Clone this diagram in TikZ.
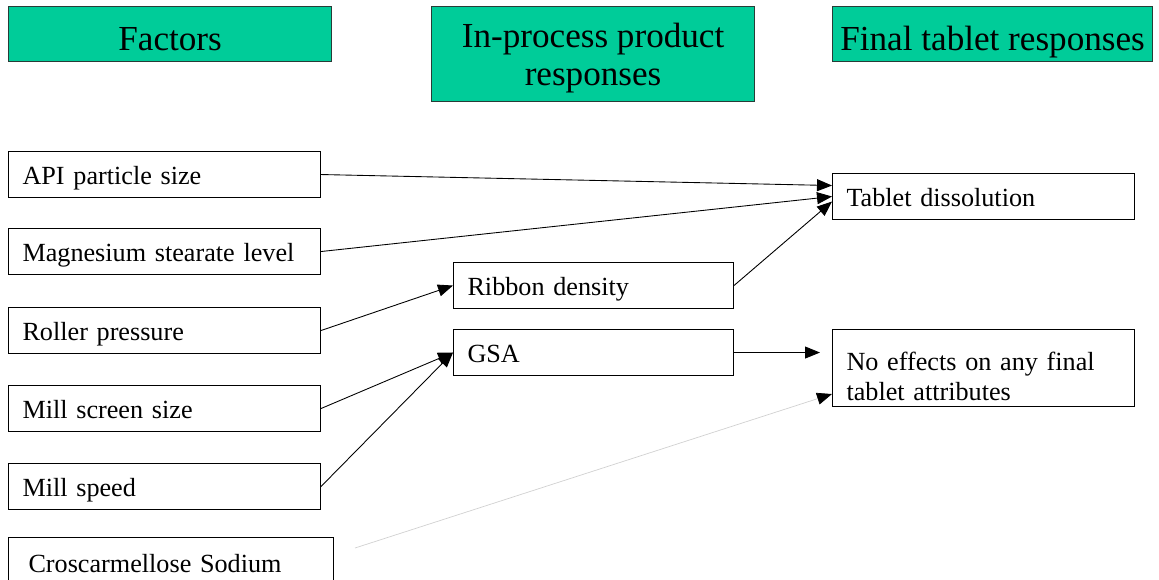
\documentclass[tikz,border=0pt]{standalone}
\usepackage{fontspec}
\setmainfont{Liberation Serif}
\usetikzlibrary{arrows.meta}

\definecolor{hdrgreen}{RGB}{0,204,153}
\definecolor{hdrline}{RGB}{40,60,55}

\tikzset{
  hdr/.style={draw=hdrline, fill=hdrgreen, line width=0.7pt, anchor=north west,
    align=center, inner sep=0pt, text depth=0pt,
    font=\fontsize{20}{21.6}\selectfont},
  fbox/.style={draw, line width=0.6pt, anchor=north west, align=left,
    inner xsep=0.28cm, inner ysep=0pt, text depth=0pt,
    font=\fontsize{14.9}{17}\selectfont},
  oneline/.style={text height=#1},
}

\tikzset{
  arr/.style={-{Triangle[length=0.3cm,width=0.24cm]}, line width=0.5pt},
  faint/.style={-{Triangle[length=0.3cm,width=0.24cm,color=black]}, draw=black!18, line width=0.4pt}
}

\begin{document}
\begin{tikzpicture}[x=0.02cm,y=-0.02cm]
\useasboundingbox (0,0) rectangle (1159,579);

% column headers
\node[hdr, oneline=19pt, minimum width=6.46cm, minimum height=1.1cm] (fac) at (8,6) {Factors};
\node[hdr, minimum width=6.46cm, minimum height=1.9cm] (inproc) at (431,6) {In-process product\\responses};
\node[hdr, oneline=19pt, minimum width=6.4cm, minimum height=1.1cm] (final) at (832,6) {Final tablet responses};

% factors
\node[fbox, oneline=11.9pt, text width=5.68cm, minimum height=0.92cm] (api) at (8,151) {API particle size};
\node[fbox, oneline=11.9pt, text width=5.68cm, minimum height=0.92cm] (mgst) at (8,228) {Magnesium stearate level};
\node[fbox, oneline=11.9pt, text width=5.68cm, minimum height=0.92cm] (roller) at (8,307) {Roller pressure};
\node[fbox, oneline=11.9pt, text width=5.68cm, minimum height=0.92cm] (mscreen) at (8,385) {Mill screen size};
\node[fbox, oneline=11.9pt, text width=5.68cm, minimum height=0.92cm] (mspeed) at (8,463) {Mill speed};
\node[fbox, oneline=11.9pt, inner xsep=0.4cm, text width=5.7cm, minimum height=1.0cm] (ccs) at (8,537) {Croscarmellose Sodium};

% in-process
\node[fbox, oneline=11.9pt, text width=5.04cm, minimum height=0.92cm] (ribbon) at (453,262) {Ribbon density};
\node[fbox, oneline=11.9pt, text width=5.04cm, minimum height=0.92cm] (gsa) at (453,329) {GSA};

% final responses
\node[fbox, oneline=11.9pt, text width=5.48cm, minimum height=0.92cm] (diss) at (832,173) {Tablet dissolution};
\node[fbox, text depth=8pt, text width=5.48cm, minimum height=1.54cm] (noeff) at (832,329) {No effects on any final\\tablet attributes};

\coordinate (ccsend) at (355,548);

% connectors
\draw[arr] (api.east) -- ([yshift=0.22cm]diss.west);
\draw[arr] (mgst.east) -- (diss.west);
\draw[arr] (ribbon.east) -- ([yshift=-0.1cm]diss.west);
\draw[arr] (roller.east) -- (ribbon.west);
\draw[arr] (mscreen.east) -- (gsa.west);
\draw[arr] (mspeed.east) -- (gsa.west);
\draw[arr, shorten >=0.24cm] (gsa.east) -- (gsa.east -| noeff.west);
\draw[faint] (ccsend) -- ([yshift=-0.52cm]noeff.west);
\end{tikzpicture}
\end{document}
